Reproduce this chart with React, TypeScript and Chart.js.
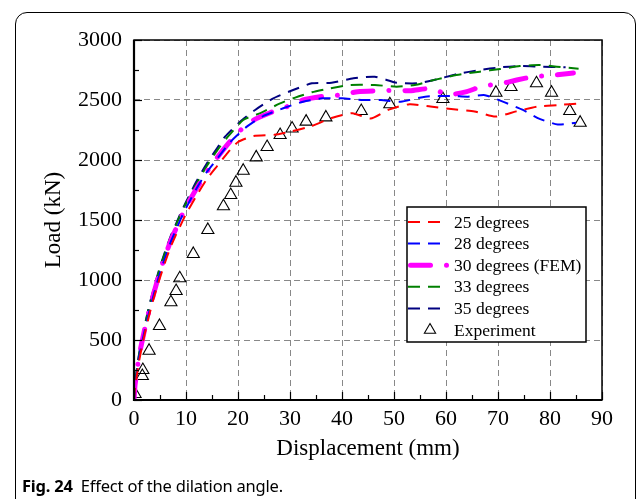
import React, { useEffect, useRef } from "react";
import { Chart, registerables } from "chart.js";

Chart.register(...registerables);

// ---- data ----
const seriesLabels = ["25 degrees", "28 degrees", "30 degrees (FEM)", "33 degrees", "35 degrees"];
const experimentLabel = "Experiment";

const deg25X = [0, 0.2, 0.5, 1, 2, 3, 4, 5, 6, 7, 8, 9, 10, 12, 14, 16, 18, 20, 23, 27, 30, 34, 38, 42, 45.5, 49, 53, 57, 61, 65.5, 69.5, 73.5, 77.5, 81.5, 86];
const deg25Y = [0, 110, 190, 330, 540, 720, 880, 1020, 1150, 1270, 1370, 1460, 1550, 1700, 1840, 1950, 2060, 2150, 2200, 2210, 2236, 2280, 2350, 2390, 2345, 2420, 2465, 2445, 2425, 2405, 2362, 2405, 2445, 2458, 2472];

const deg28X = [0, 0.2, 0.5, 1, 2, 3, 4, 5, 6, 7, 8, 9, 10, 12, 14, 16, 18.5, 21.7, 24.9, 28.7, 32.5, 36.3, 40, 44, 47.5, 51.3, 56, 61.2, 64.2, 67.5, 71.3, 74.8, 78, 81.5, 85];
const deg28Y = [0, 120, 210, 360, 570, 750, 910, 1060, 1190, 1310, 1410, 1510, 1600, 1760, 1900, 2010, 2150, 2278, 2367, 2431, 2486, 2514, 2514, 2500, 2500, 2486, 2528, 2533, 2528, 2540, 2480, 2417, 2343, 2296, 2310];

const deg30X = [0, 0.2, 0.5, 1, 2, 3, 4, 5, 6, 7, 8, 9, 10, 12, 14, 16, 18, 20, 23, 26.2, 29.4, 32.5, 36.3, 39.6, 43, 48.5, 53.3, 57, 60.5, 64, 67, 71, 73.6, 77, 81, 84.5];
const deg30Y = [0, 125, 220, 370, 580, 760, 920, 1070, 1200, 1320, 1420, 1520, 1610, 1760, 1900, 2020, 2130, 2230, 2333, 2394, 2444, 2500, 2530, 2542, 2569, 2578, 2578, 2595, 2545, 2570, 2615, 2640, 2667, 2695, 2708, 2725];

const deg33X = [0, 0.2, 0.5, 1, 2, 3, 4, 5, 6, 7, 8, 9, 10, 12, 14, 16, 17.8, 21, 24.2, 28.1, 31, 34.2, 37.7, 41.5, 46.3, 50.5, 54, 58.2, 62, 66.5, 70.4, 74.2, 78, 81.3, 85.5];
const deg33Y = [0, 130, 230, 380, 600, 790, 950, 1100, 1230, 1350, 1450, 1550, 1640, 1800, 1950, 2080, 2181, 2333, 2389, 2472, 2520, 2564, 2597, 2625, 2625, 2611, 2625, 2672, 2708, 2736, 2758, 2783, 2792, 2778, 2760];

const deg35X = [0, 0.2, 0.5, 1, 2, 3, 4, 5, 6, 7, 8, 9, 10, 12, 14, 16, 17.5, 20.4, 23.3, 26.8, 30.6, 34.2, 38, 42.2, 46.3, 50.5, 54.4, 58.2, 62.3, 66.5, 70.4, 74.6, 78, 83];
const deg35Y = [0, 135, 240, 390, 610, 800, 960, 1110, 1240, 1360, 1460, 1560, 1650, 1820, 1970, 2100, 2194, 2319, 2417, 2514, 2583, 2639, 2644, 2681, 2694, 2644, 2639, 2672, 2717, 2750, 2772, 2783, 2778, 2772];

const expX = [0.2, 1.6, 1.7, 2.9, 4.9, 7.1, 8.1, 8.8, 11.4, 14.2, 17.2, 18.6, 19.6, 21.0, 23.5, 25.6, 28.1, 30.4, 33.1, 36.9, 43.7, 49.2, 59.4, 69.6, 72.5, 77.4, 80.3, 83.8, 85.8];
const expY = [50, 200, 250, 411, 617, 814, 908, 1014, 1217, 1417, 1614, 1708, 1811, 1911, 2022, 2108, 2208, 2262, 2320, 2355, 2408, 2464, 2508, 2561, 2608, 2639, 2561, 2408, 2311];

const xTickValues = [0, 10, 20, 30, 40, 50, 60, 70, 80, 90];
const yTickValues = [0, 500, 1000, 1500, 2000, 2500, 3000];
const xTitle = "Displacement (mm)";
const yTitle = "Load (kN)";
const captionBold = "Fig. 24";
const captionText = "Effect of the dilation angle.";

const SERIF = "'Liberation Serif', 'Times New Roman', serif";

const zip = (xs: number[], ys: number[]) => xs.map((x, i) => ({ x, y: ys[i] }));

const framePlugin = {
  id: "frameTicks",
  afterDatasetsDraw(chart: any) {
    const { ctx, chartArea: a, scales } = chart;
    const x = scales.x;
    const y = scales.y;
    ctx.save();
    ctx.strokeStyle = "#000";
    ctx.setLineDash([]);
    ctx.lineWidth = 1.2;
    const xMax = xTickValues[xTickValues.length - 1];
    const yMax = yTickValues[yTickValues.length - 1];
    const xStep = xTickValues[1] - xTickValues[0];
    const yStep = yTickValues[1] - yTickValues[0];
    for (let v = 0; v <= xMax; v += xStep / 2) {
      const px = Math.round(x.getPixelForValue(v)) + 0.5;
      const len = v % xStep === 0 ? 8 : 5;
      ctx.beginPath();
      ctx.moveTo(px, a.bottom);
      ctx.lineTo(px, a.bottom - len);
      ctx.stroke();
    }
    for (let v = 0; v <= yMax; v += yStep / 2) {
      const py = Math.round(y.getPixelForValue(v)) + 0.5;
      const len = v % yStep === 0 ? 8 : 5;
      ctx.beginPath();
      ctx.moveTo(a.left, py);
      ctx.lineTo(a.left + len, py);
      ctx.stroke();
    }
    ctx.lineWidth = 1.5;
    ctx.strokeRect(a.left, a.top, a.right - a.left, a.bottom - a.top);
    ctx.lineWidth = 2.2;
    ctx.beginPath();
    ctx.moveTo(a.left, a.top);
    ctx.lineTo(a.left, a.bottom);
    ctx.lineTo(a.right, a.bottom);
    ctx.stroke();
    ctx.restore();
  },
};

const legendPlugin = {
  id: "boxLegend",
  afterDraw(chart: any) {
    const { ctx, chartArea: a } = chart;
    const boxRight = a.right - 16;
    const boxLeft = a.right - 195;
    const boxTop = a.top + 167;
    const boxH = 135;
    ctx.save();
    ctx.fillStyle = "#fff";
    ctx.fillRect(boxLeft, boxTop, boxRight - boxLeft, boxH);
    ctx.strokeStyle = "#000";
    ctx.lineWidth = 1.5;
    ctx.setLineDash([]);
    ctx.strokeRect(boxLeft, boxTop, boxRight - boxLeft, boxH);
    const rowH = 21.6;
    const textX = boxLeft + 47;
    ctx.font = `17.5px ${SERIF}`;
    ctx.textBaseline = "middle";
    ctx.textAlign = "left";
    chart.data.datasets.forEach((ds: any, i: number) => {
      const ry = boxTop + 15 + i * rowH;
      if (ds.showLine === false) {
        const cx = boxLeft + 23;
        const r = 6.5;
        ctx.beginPath();
        ctx.moveTo(cx, ry - r);
        ctx.lineTo(cx + r * 0.866, ry + r / 2);
        ctx.lineTo(cx - r * 0.866, ry + r / 2);
        ctx.closePath();
        ctx.strokeStyle = "#000";
        ctx.lineWidth = 1.1;
        ctx.setLineDash([]);
        ctx.stroke();
      } else {
        ctx.strokeStyle = ds.borderColor;
        ctx.lineWidth = ds.borderWidth;
        ctx.lineCap = ds.borderCapStyle || "butt";
        ctx.setLineDash(ds.borderDash || []);
        ctx.beginPath();
        const x0 = ds.borderCapStyle === "round" ? boxLeft + 3.5 : boxLeft + 1;
        const x1 = ds.borderCapStyle === "round" ? boxLeft + 41 : boxLeft + 35;
        ctx.moveTo(x0, ry);
        ctx.lineTo(x1, ry);
        ctx.stroke();
      }
      ctx.setLineDash([]);
      ctx.fillStyle = "#000";
      ctx.fillText(ds.label, textX, ry + 1);
    });
    ctx.restore();
  },
};

export default function App() {
  const canvasRef = useRef<HTMLCanvasElement | null>(null);

  useEffect(() => {
    if (!canvasRef.current) return;
    const dashed = (label: string, xs: number[], ys: number[], color: string) => ({
      label,
      data: zip(xs, ys),
      borderColor: color,
      backgroundColor: color,
      borderWidth: 2,
      borderDash: [12, 8],
      pointRadius: 0,
      tension: 0.2,
      fill: false,
    });
    const plain = (v: any) => String(v);
    const chart = new Chart(canvasRef.current, {
      type: "line",
      data: {
        datasets: [
          dashed(seriesLabels[0], deg25X, deg25Y, "#ff0000"),
          dashed(seriesLabels[1], deg28X, deg28Y, "#0000ff"),
          {
            label: seriesLabels[2],
            data: zip(deg30X, deg30Y),
            borderColor: "#ff00ff",
            backgroundColor: "#ff00ff",
            borderWidth: 5,
            borderDash: [20, 16, 0.01, 16],
            borderCapStyle: "round",
            pointRadius: 0,
            tension: 0.2,
            fill: false,
          } as any,
          dashed(seriesLabels[3], deg33X, deg33Y, "#008000"),
          dashed(seriesLabels[4], deg35X, deg35Y, "#000080"),
          {
            label: experimentLabel,
            data: zip(expX, expY),
            showLine: false,
            pointStyle: "triangle",
            pointRadius: 7,
            pointBorderWidth: 1.1,
            borderColor: "#000",
            pointBorderColor: "#000",
            pointBackgroundColor: "rgba(0,0,0,0)",
            backgroundColor: "rgba(0,0,0,0)",
          } as any,
        ],
      },
      options: {
        responsive: false,
        animation: false,
        devicePixelRatio: 1,
        layout: { padding: { left: 0, right: 34, top: 40, bottom: 29 } },
        plugins: { legend: { display: false }, tooltip: { enabled: false } },
        scales: {
          x: {
            type: "linear",
            min: xTickValues[0],
            max: xTickValues[xTickValues.length - 1],
            afterBuildTicks: (s: any) => {
              s.ticks = xTickValues.map((v) => ({ value: v }));
            },
            ticks: { color: "#000", padding: 6, font: { family: SERIF, size: 22 }, callback: plain },
            grid: { color: "#888", lineWidth: 1, drawTicks: false },
            border: { display: false, dash: [6, 4] },
            title: {
              display: true,
              text: xTitle,
              color: "#000",
              font: { family: SERIF, size: 23 },
              padding: { top: 0, bottom: 7 },
            },
            afterFit: (s: any) => {
              s.height = 70;
            },
          },
          y: {
            type: "linear",
            min: yTickValues[0],
            max: yTickValues[yTickValues.length - 1],
            afterBuildTicks: (s: any) => {
              s.ticks = yTickValues.map((v) => ({ value: v }));
            },
            ticks: { color: "#000", padding: 12, font: { family: SERIF, size: 22 }, callback: plain },
            grid: { color: "#888", lineWidth: 1, drawTicks: false },
            border: { display: false, dash: [6, 4] },
            title: {
              display: true,
              text: yTitle,
              color: "#000",
              font: { family: SERIF, size: 23 },
              padding: { top: 40, bottom: 0 },
            },
            afterFit: (s: any) => {
              s.width = 134;
            },
          },
        },
      } as any,
      plugins: [framePlugin, legendPlugin],
    });
    return () => chart.destroy();
  }, []);

  return (
    <div style={{ position: "fixed", left: 0, top: 0, width: 636, height: 499, overflow: "hidden", background: "#fff" }}>
      <div
        style={{
          position: "absolute",
          left: 15,
          top: 12,
          width: 621,
          height: 600,
          border: "1px solid #000",
          borderRadius: "12px 12px 0 0",
          boxSizing: "border-box",
        }}
      />
      <canvas ref={canvasRef} width={636} height={499} style={{ position: "absolute", left: 0, top: 0, width: 636, height: 499 }} />
      <div
        style={{
          position: "absolute",
          left: 22,
          top: 475,
          fontFamily: "'Noto Sans', 'Open Sans', sans-serif",
          fontSize: 16.5,
          color: "#000",
          whiteSpace: "nowrap",
          lineHeight: "22px",
          letterSpacing: -0.2,
        }}
      >
        <b>{captionBold}</b>
        <span style={{ marginLeft: 8 }}>{captionText}</span>
      </div>
    </div>
  );
}
